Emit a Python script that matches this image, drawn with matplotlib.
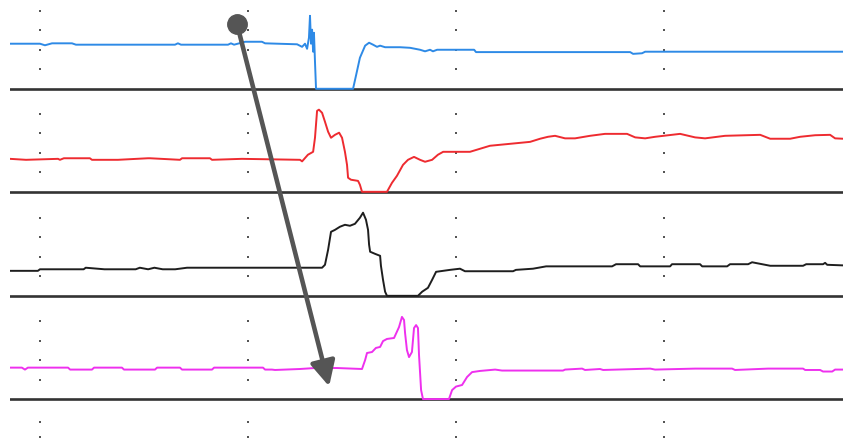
import numpy as np
import matplotlib.pyplot as plt

# time in ms (10 ms per grid column), amplitude in divisions above each trace's floor
ch1_t = [-1.44, 0, 0.24, 0.58, 1.54, 1.73, 6.49, 6.63, 6.78, 9.04, 9.18, 9.33, 9.86, 10.67, 10.82,
         12.36, 12.6, 12.74, 12.84, 12.93, 12.98, 13.03, 13.08, 13.13, 13.17, 13.22, 13.27, 15.05,
         15.19, 15.38, 15.63, 15.82, 16.01, 16.2, 16.35, 16.59, 17.31, 17.79, 18.27, 18.51, 18.75,
         18.89, 19.09, 20.87, 20.96, 28.37, 28.51, 28.94, 29.09, 38.6]
ch1_v = [2.31, 2.31, 2.23, 2.33, 2.33, 2.26, 2.26, 2.33, 2.26, 2.26, 2.33, 2.26, 2.41, 2.41, 2.33,
         2.28, 2.15, 2.31, 2.05, 2.62, 3.74, 2.31, 3.03, 1.9, 2.87, 1.38, 0, 0,
         0.67, 1.59, 2.21, 2.36, 2.26, 2.15, 2.21, 2.13, 2.13, 2.1, 2.0, 1.92, 2.0,
         1.92, 2.0, 2.0, 1.88, 1.88, 1.79, 1.82, 1.9, 1.9]

ch2_t = [-1.44, -0.67, 0.87, 0.96, 1.15, 2.4, 2.5, 3.75, 5.19, 5.29, 6.73, 6.83, 8.17, 8.27, 9.71,
         12.5, 12.6, 12.88, 13.13, 13.22, 13.32, 13.41, 13.56, 13.7, 13.85, 13.99, 14.18, 14.38,
         14.52, 14.66, 14.76, 14.81, 14.95, 15.29, 15.38, 15.48, 16.68, 16.92, 17.16, 17.45, 17.69,
         17.98, 18.27, 18.51, 18.85, 19.13, 19.38, 20.67, 21.63, 23.08, 23.56, 24.04, 24.42, 24.76,
         25.24, 25.72, 26.44, 27.16, 28.22, 28.61, 29.09, 29.57, 30.77, 31.49, 31.97, 32.93, 34.62,
         35.1, 36.06, 36.54, 37.26, 37.98, 38.22, 38.6]
ch2_v = [1.69, 1.64, 1.69, 1.64, 1.72, 1.72, 1.64, 1.64, 1.72, 1.72, 1.64, 1.72, 1.72, 1.64, 1.69,
         1.64, 1.56, 1.9, 2.05, 2.77, 4.15, 4.21, 4.05, 3.59, 3.08, 2.77, 2.92, 3.03,
         2.77, 2.05, 1.38, 0.72, 0.62, 0.56, 0.36, 0, 0, 0.46, 0.82, 1.38, 1.64,
         1.79, 1.64, 1.54, 1.64, 1.9, 2.05, 2.05, 2.36, 2.51, 2.56, 2.72, 2.82, 2.87,
         2.74, 2.74, 2.87, 2.97, 2.97, 2.79, 2.74, 2.82, 2.97, 2.79, 2.74, 2.87, 2.92,
         2.72, 2.72, 2.82, 2.9, 2.92, 2.74, 2.72]

ch3_t = [-1.44, -0.1, 0, 2.1, 2.2, 3.1, 3.2, 4.6, 4.8, 5.2, 5.5, 5.9, 6.4, 6.5, 7.07, 13.56,
         13.7, 13.85, 13.99, 14.18, 14.42, 14.66, 14.9, 15.14, 15.38, 15.53, 15.67, 15.77, 15.82,
         15.87, 16.11, 16.35, 16.39, 16.49, 16.59, 16.68, 18.17, 18.37, 18.65, 18.85, 19.04, 19.71,
         20.19, 20.43, 20.67, 22.74, 22.88, 23.7, 24.33, 27.5, 27.69, 28.75, 28.85, 30.29, 30.38,
         31.73, 31.83, 33.03, 33.17, 34.04, 34.23, 34.47, 34.86, 35.1, 36.68, 36.83, 37.64, 37.74,
         37.84, 38.6]
ch3_v = [1.28, 1.28, 1.36, 1.36, 1.44, 1.36, 1.36, 1.36, 1.44, 1.36, 1.44, 1.36, 1.36, 1.36, 1.44, 1.44,
         1.59, 2.36, 3.28, 3.38, 3.54, 3.64, 3.59, 3.69, 4.0, 4.26, 3.9, 3.38, 2.62,
         2.26, 2.15, 2.05, 1.54, 0.82, 0.21, 0, 0, 0.21, 0.41, 0.82, 1.23, 1.33,
         1.39, 1.26, 1.26, 1.26, 1.33, 1.39, 1.51, 1.51, 1.62, 1.62, 1.51, 1.51, 1.62,
         1.62, 1.51, 1.51, 1.62, 1.62, 1.72, 1.67, 1.59, 1.54, 1.54, 1.62, 1.62, 1.69,
         1.59, 1.56]

ch4_t = [-1.44, -0.87, -0.72, -0.58, 1.35, 1.45, 2.5, 2.6, 3.94, 4.04, 5.53, 5.63, 6.73, 6.83,
         8.27, 8.37, 10.72, 10.82, 11.15, 11.3, 12.5, 13.22, 14.28, 15.48, 15.63, 15.72, 15.96,
         16.15, 16.35, 16.49, 16.68, 17.02, 17.26, 17.4, 17.5, 17.55, 17.64, 17.74, 17.88, 17.98,
         18.08, 18.17, 18.22, 18.32, 18.41, 19.66, 19.81, 20.0, 20.29, 20.53, 20.77, 21.15, 21.88,
         22.21, 25.14, 25.24, 26.06, 26.2, 26.92, 27.07, 28.7, 29.33, 29.57, 31.49, 33.27, 33.41,
         35.0, 36.68, 36.78, 37.5, 37.64, 38.08, 38.22, 38.6]
ch4_v = [1.61, 1.61, 1.51, 1.61, 1.61, 1.51, 1.51, 1.61, 1.61, 1.51, 1.51, 1.61, 1.61, 1.51,
         1.51, 1.61, 1.61, 1.51, 1.51, 1.49, 1.54, 1.59, 1.59, 1.54, 2.0, 2.36, 2.41,
         2.62, 2.67, 2.97, 3.08, 3.13, 3.69, 4.21, 4.05, 3.38, 2.51, 2.15, 2.41, 3.64,
         3.79, 3.64, 2.26, 0.46, 0, 0, 0.46, 0.64, 0.72, 1.13, 1.38, 1.44, 1.51,
         1.46, 1.46, 1.51, 1.56, 1.49, 1.54, 1.49, 1.54, 1.56, 1.51, 1.56, 1.56, 1.49,
         1.56, 1.56, 1.49, 1.49, 1.41, 1.41, 1.51, 1.51]

traces = [(ch1_t, ch1_v, "#2e8ae6"), (ch2_t, ch2_v, "#ee2b30"),
          (ch3_t, ch3_v, "#1e1e1e"), (ch4_t, ch4_v, "#ee30ee")]
floors = [18.05, 12.77, 7.44, 2.15]

grid_cols = [0, 10, 20, 30]
grid_rows = [f + k for f in floors for k in (1, 2, 3, 4)] + [0.97, 0.2]

t_min, t_max = -1.44, 38.6
y_top = 22.6

fig = plt.figure(figsize=(8.43, 4.41), dpi=100)
ax = fig.add_axes([10 / 843, 0, 833 / 843, 1])
ax.set_xlim(t_min, t_max)
ax.set_ylim(0, y_top)
ax.axis("off")

gx, gy = np.meshgrid(grid_cols, grid_rows)
ax.scatter(gx.ravel(), gy.ravel(), s=1.6, marker="s", color="#555555", lw=0, zorder=1)

for (t, v, c), f in zip(traces, floors):
    ax.axhline(f, color="#333333", lw=1.9, zorder=2)
    ax.plot(t, np.array(v) + f, color=c, lw=1.4, zorder=3, solid_joinstyle="round")

# arrow marking the propagation of the event across channels
arrow_start = (9.47, 21.38)
arrow_end = (13.9, 2.8)
ax.annotate("", xy=arrow_end, xytext=arrow_start,
            arrowprops=dict(arrowstyle="-|>,head_length=1.5,head_width=0.75",
                            color="#555555", lw=3.3, shrinkA=0, shrinkB=0),
            zorder=5)
ax.plot(*arrow_start, "o", ms=14, color="#555555", zorder=6)

fig.savefig("out.png", dpi=100)
